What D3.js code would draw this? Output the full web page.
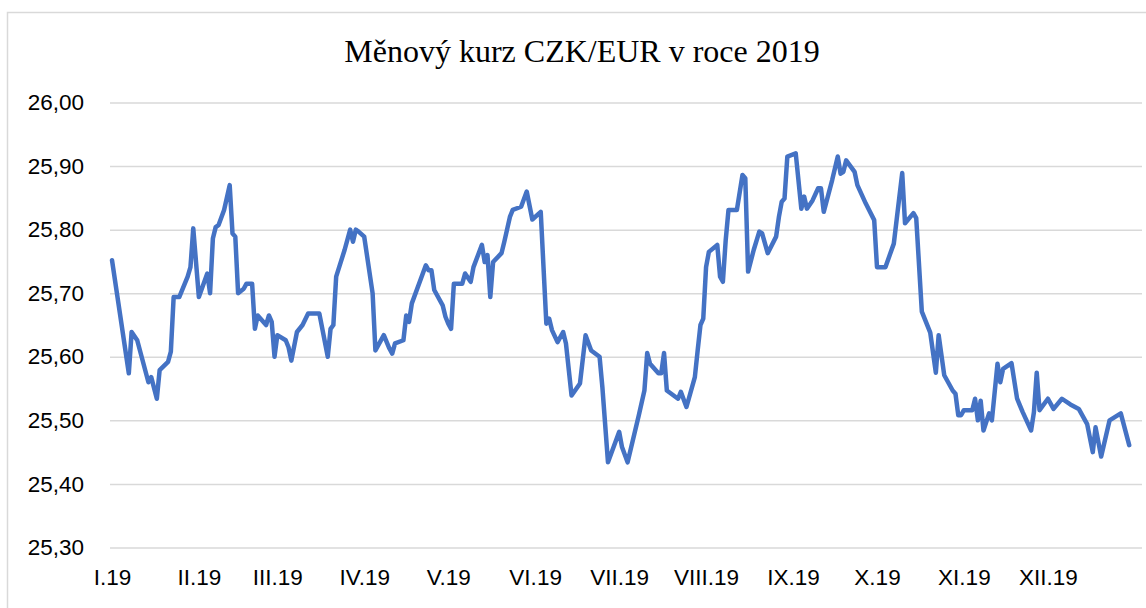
<!DOCTYPE html>
<html>
<head>
<meta charset="utf-8">
<script src="https://cdn.jsdelivr.net/npm/d3@7"></script>
<style>
  html, body { margin: 0; padding: 0; background: #ffffff; }
  svg { display: block; }
</style>
</head>
<body>
<svg id="chart" width="1146" height="608"></svg>
<script>
// ---- data ----
const chartTitle = "Měnový kurz CZK/EUR v roce 2019";

const dates = [
  "2019-01-01","2019-01-07","2019-01-08","2019-01-10","2019-01-14","2019-01-15","2019-01-17","2019-01-18",
  "2019-01-21","2019-01-22","2019-01-23","2019-01-25","2019-01-28","2019-01-29","2019-01-30","2019-02-01",
  "2019-02-04","2019-02-05","2019-02-06","2019-02-07","2019-02-08","2019-02-10","2019-02-12","2019-02-13",
  "2019-02-14","2019-02-15","2019-02-17","2019-02-18","2019-02-20","2019-02-21","2019-02-22","2019-02-25",
  "2019-02-26","2019-02-27","2019-02-28","2019-03-01","2019-03-04","2019-03-05","2019-03-06","2019-03-08",
  "2019-03-10","2019-03-12","2019-03-16","2019-03-19","2019-03-20","2019-03-21","2019-03-22","2019-03-25",
  "2019-03-27","2019-03-28","2019-03-29","2019-03-30","2019-04-01","2019-04-04","2019-04-05","2019-04-08",
  "2019-04-10","2019-04-11","2019-04-12","2019-04-15","2019-04-16","2019-04-17","2019-04-18","2019-04-23",
  "2019-04-24","2019-04-25","2019-04-26","2019-04-29","2019-04-30","2019-05-01","2019-05-02","2019-05-03",
  "2019-05-06","2019-05-07","2019-05-09","2019-05-10","2019-05-13","2019-05-14","2019-05-15","2019-05-16",
  "2019-05-17","2019-05-20","2019-05-21","2019-05-23","2019-05-24","2019-05-27","2019-05-29","2019-05-31",
  "2019-06-03","2019-06-05","2019-06-06","2019-06-07","2019-06-09","2019-06-11","2019-06-12","2019-06-14",
  "2019-06-17","2019-06-19","2019-06-21","2019-06-24","2019-06-25","2019-06-27","2019-07-01","2019-07-02",
  "2019-07-04","2019-07-08","2019-07-10","2019-07-11","2019-07-12","2019-07-15","2019-07-16","2019-07-17",
  "2019-07-18","2019-07-22","2019-07-23","2019-07-25","2019-07-28","2019-07-29","2019-07-30","2019-07-31",
  "2019-08-01","2019-08-02","2019-08-05","2019-08-06","2019-08-07","2019-08-08","2019-08-09","2019-08-12",
  "2019-08-14","2019-08-15","2019-08-16","2019-08-18","2019-08-20","2019-08-21","2019-08-23","2019-08-26",
  "2019-08-27","2019-08-28","2019-08-29","2019-08-30","2019-09-02","2019-09-04","2019-09-05","2019-09-06",
  "2019-09-08","2019-09-10","2019-09-11","2019-09-12","2019-09-15","2019-09-17","2019-09-18","2019-09-19",
  "2019-09-20","2019-09-23","2019-09-24","2019-09-27","2019-09-30","2019-10-01","2019-10-04","2019-10-07",
  "2019-10-08","2019-10-10","2019-10-11","2019-10-14","2019-10-15","2019-10-17","2019-10-20","2019-10-22",
  "2019-10-23","2019-10-25","2019-10-28","2019-10-29","2019-10-30","2019-10-31","2019-11-01","2019-11-04",
  "2019-11-05","2019-11-06","2019-11-07","2019-11-08","2019-11-10","2019-11-11","2019-11-13","2019-11-14",
  "2019-11-15","2019-11-18","2019-11-20","2019-11-22","2019-11-25","2019-11-26","2019-11-27","2019-11-28",
  "2019-12-01","2019-12-03","2019-12-06","2019-12-09","2019-12-12","2019-12-15","2019-12-17","2019-12-18",
  "2019-12-20","2019-12-23","2019-12-27","2019-12-30"
];

const rates = [
  25.752,25.574,25.639,25.626,25.560,25.568,25.534,25.579,
  25.592,25.608,25.694,25.694,25.726,25.741,25.802,25.694,
  25.731,25.700,25.786,25.804,25.807,25.831,25.870,25.794,
  25.789,25.700,25.707,25.715,25.715,25.644,25.665,25.650,
  25.665,25.655,25.600,25.634,25.626,25.615,25.594,25.639,
  25.650,25.668,25.668,25.600,25.644,25.650,25.726,25.768,
  25.800,25.781,25.800,25.797,25.789,25.700,25.610,25.634,
  25.613,25.605,25.621,25.626,25.665,25.655,25.684,25.744,
  25.736,25.736,25.705,25.681,25.663,25.652,25.644,25.715,
  25.715,25.731,25.718,25.741,25.776,25.749,25.760,25.694,
  25.749,25.763,25.781,25.820,25.831,25.836,25.860,25.816,
  25.828,25.652,25.660,25.642,25.623,25.639,25.621,25.539,
  25.558,25.634,25.610,25.600,25.552,25.434,25.482,25.458,
  25.434,25.508,25.547,25.606,25.589,25.574,25.574,25.606,
  25.547,25.534,25.545,25.521,25.568,25.610,25.650,25.660,
  25.741,25.765,25.776,25.726,25.718,25.783,25.831,25.831,
  25.886,25.881,25.734,25.768,25.797,25.794,25.763,25.789,
  25.820,25.844,25.849,25.915,25.920,25.833,25.852,25.833,
  25.846,25.865,25.865,25.828,25.878,25.915,25.888,25.891,
  25.909,25.891,25.870,25.841,25.815,25.741,25.741,25.778,
  25.815,25.889,25.810,25.826,25.818,25.671,25.638,25.575,
  25.634,25.571,25.547,25.542,25.508,25.508,25.516,25.516,
  25.534,25.500,25.531,25.484,25.511,25.500,25.589,25.560,
  25.581,25.590,25.534,25.513,25.484,25.513,25.575,25.516,
  25.534,25.518,25.534,25.525,25.518,25.494,25.450,25.489,
  25.443,25.500,25.511,25.461
];

const yTicks = [25.30, 25.40, 25.50, 25.60, 25.70, 25.80, 25.90, 26.00];
const monthLabels = ["I.19","II.19","III.19","IV.19","V.19","VI.19","VII.19","VIII.19","IX.19","X.19","XI.19","XII.19"];

// ---- drawing ----
const svg = d3.select("#chart");
const W = 1146, H = 608;
const parse = d3.timeParse("%Y-%m-%d");
const series = dates.map((d, i) => ({ date: parse(d), value: rates[i] }));

const plot = { left: 110, right: 1142, top: 102.5, bottom: 547.5 };

const x = d3.scaleTime()
  .domain([parse("2019-01-01"), parse("2019-12-31")])
  .range([112, 1132]);

const y = d3.scaleLinear()
  .domain([25.30, 26.00])
  .range([plot.bottom, plot.top]);

const czLocale = d3.formatLocale({ decimal: ",", thousands: " ", grouping: [3], currency: ["", " Kč"] });
const fmt = czLocale.format(".2f");

// background + chart border
svg.append("rect").attr("x", 0).attr("y", 0).attr("width", W).attr("height", H).attr("fill", "#ffffff");
svg.append("rect")
  .attr("x", 7.5).attr("y", 12.5)
  .attr("width", W + 20).attr("height", H + 20)
  .attr("fill", "none").attr("stroke", "#d9d9d9").attr("stroke-width", 1.5);

// title
svg.append("text")
  .attr("x", 582).attr("y", 62)
  .attr("text-anchor", "middle")
  .attr("font-family", "'Liberation Serif', 'Times New Roman', serif")
  .attr("font-size", 32)
  .attr("fill", "#000000")
  .text(chartTitle);

// gridlines
const grid = svg.append("g")
  .attr("transform", `translate(${plot.left},0)`)
  .call(d3.axisLeft(y).tickValues(yTicks).tickSize(-(plot.right - plot.left)).tickFormat(""));
grid.select(".domain").remove();
grid.selectAll(".tick line").attr("stroke", "#d9d9d9").attr("stroke-width", 1.5);

// y axis labels
const yAxis = svg.append("g")
  .attr("transform", `translate(${plot.left},0)`)
  .call(d3.axisLeft(y).tickValues(yTicks).tickSize(0).tickPadding(26).tickFormat(fmt));
yAxis.select(".domain").remove();
yAxis.selectAll("text")
  .attr("font-family", "'Liberation Sans', Arial, sans-serif")
  .attr("font-size", 22.5)
  .attr("fill", "#000000");

// x axis labels (month starts)
const monthStarts = d3.timeMonth.range(parse("2019-01-01"), parse("2019-12-31"));
const xAxis = svg.append("g")
  .attr("transform", `translate(0,${plot.bottom})`)
  .call(d3.axisBottom(x).tickValues(monthStarts).tickSize(0).tickPadding(22)
    .tickFormat((d, i) => monthLabels[i]));
xAxis.select(".domain").remove();
xAxis.selectAll("text")
  .attr("font-family", "'Liberation Sans', Arial, sans-serif")
  .attr("font-size", 22.5)
  .attr("fill", "#000000");

// line
const line = d3.line().x(d => x(d.date)).y(d => y(d.value));
svg.append("path")
  .datum(series)
  .attr("d", line)
  .attr("fill", "none")
  .attr("stroke", "#4472c4")
  .attr("stroke-width", 4.5)
  .attr("stroke-linejoin", "round")
  .attr("stroke-linecap", "round");
</script>
</body>
</html>
